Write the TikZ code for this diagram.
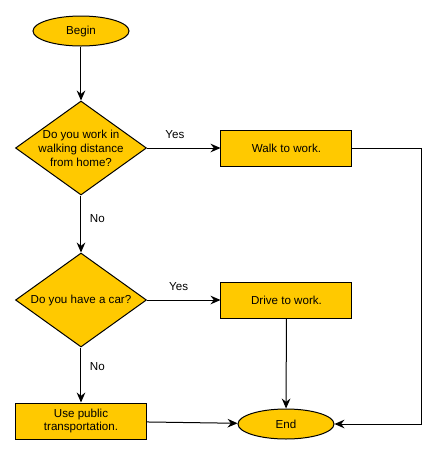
\documentclass[tikz,border=0pt]{standalone}
\usepackage{fontspec}
\setmainfont{Liberation Sans}
\usetikzlibrary{shapes.geometric,arrows.meta}

\definecolor{boxfill}{RGB}{255,201,0}

\tikzset{
  base/.style={draw=black, fill=boxfill, line width=0.75pt, font=\fontsize{8.7}{10.4}\selectfont, align=center, inner sep=0pt},
  terminal/.style={base, ellipse, minimum width=72pt, minimum height=22.5pt},
  decision/.style={base, diamond, aspect=1.39, inner sep=-4pt, minimum width=98.25pt, minimum height=70.5pt},
  process/.style={base, rectangle, minimum width=98.25pt, minimum height=27pt},
  flow/.style={line width=0.75pt, -{Stealth[length=7.5pt,width=6.5pt,inset=2.5pt]}},
  lbl/.style={font=\fontsize{8.7}{10.4}\selectfont}
}

\begin{document}
\begin{tikzpicture}[x=0.75pt,y=-0.75pt]
\useasboundingbox (0,0) rectangle (438,455);

% nodes
\node[terminal] (begin)  at (81,31)    {Begin};
\node[decision] (walkq)  at (81,148)   {Do you work in\\walking distance\\from home?};
\node[process]  (walk)   at (286.5,148) {Walk to work.};
\node[decision] (carq)   at (81,300)   {Do you have a car?};
\node[process]  (drive)  at (286.5,300) {Drive to work.};
\node[process]  (public) at (81,421)   {Use public\\transportation.};
\node[terminal] (end)    at (286,424)  {End};
\coordinate (turn) at (422,148);

% connectors
\draw[flow] (begin) -- (walkq);
\draw[flow] (walkq) -- node[lbl, above=3pt, pos=0.38] {Yes} (walk);
\draw[flow] (walkq) -- node[lbl, right=3pt, pos=0.4] {No} (carq);
\draw[flow] (carq) -- node[lbl, above=3pt, pos=0.43] {Yes} (drive);
\draw[flow] (carq) -- node[lbl, right=3pt, pos=0.35] {No} (public);
\draw[flow] (drive) -- (end);
\draw[flow] (public) -- (end);
\draw[flow] (walk) -- (turn) |- (end);
\end{tikzpicture}
\end{document}
